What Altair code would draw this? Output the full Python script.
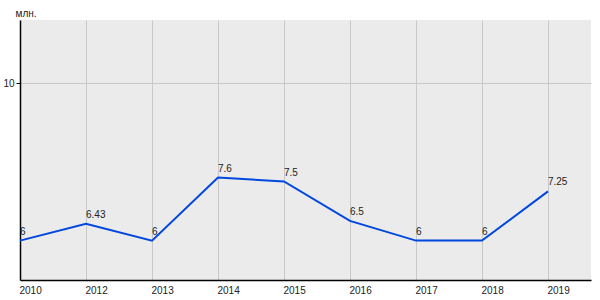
import altair as alt
import pandas as pd

years = ["2010", "2012", "2013", "2014", "2015", "2016", "2017", "2018", "2019"]
values = [6, 6.43, 6, 7.6, 7.5, 6.5, 6, 6, 7.25]
labels = ["6", "6.43", "6", "7.6", "7.5", "6.5", "6", "6", "7.25"]

df = pd.DataFrame({"year": years, "value": values, "label": labels})

FONT = "Liberation Sans"

x = alt.X("year:O", sort=years,
          scale=alt.Scale(type="point", padding=0.326, align=0),
          axis=alt.Axis(title=None, labelAngle=0, labelAlign="left", labelFontSize=10,
                        labelFont=FONT, labelColor="#222", ticks=False, labelPadding=5,
                        labelOffset=-1,
                        domainColor="#000", domainWidth=1.5, grid=True,
                        gridColor="#c8c8c8", gridWidth=1))
y = alt.Y("value:Q",
          scale=alt.Scale(domain=[5, 11.6], nice=False, zero=False),
          axis=alt.Axis(title="млн.", titleAngle=0, titleAlign="left", titleBaseline="alphabetic",
                        titleX=-5, titleY=-4, titleFont=FONT, titleFontSize=10,
                        titleFontWeight="normal", titleColor="#222",
                        values=[10], labelFontSize=10, labelFont=FONT, labelColor="#222",
                        tickSize=4, tickColor="#000", labelPadding=2,
                        domainColor="#000", domainWidth=1.5,
                        gridColor="#c8c8c8", gridWidth=1))

line = alt.Chart(df).mark_line(color="#0047e0", strokeWidth=2).encode(x=x, y=y)
text = alt.Chart(df).mark_text(align="left", baseline="bottom", dy=-4, fontSize=10,
                               font=FONT, color="#222").encode(
    x=alt.X("year:O", sort=years), y="value:Q", text="label:N")

chart = (line + text).properties(
    width=571, height=260,
    padding={"left": 20, "top": 20, "right": 9, "bottom": 20},
    autosize=alt.AutoSizeParams(type="none"),
    background="white",
).configure_view(fill="#ebebeb", stroke=None)

chart.save("out.html", embed_options={"renderer": "svg", "actions": False})
